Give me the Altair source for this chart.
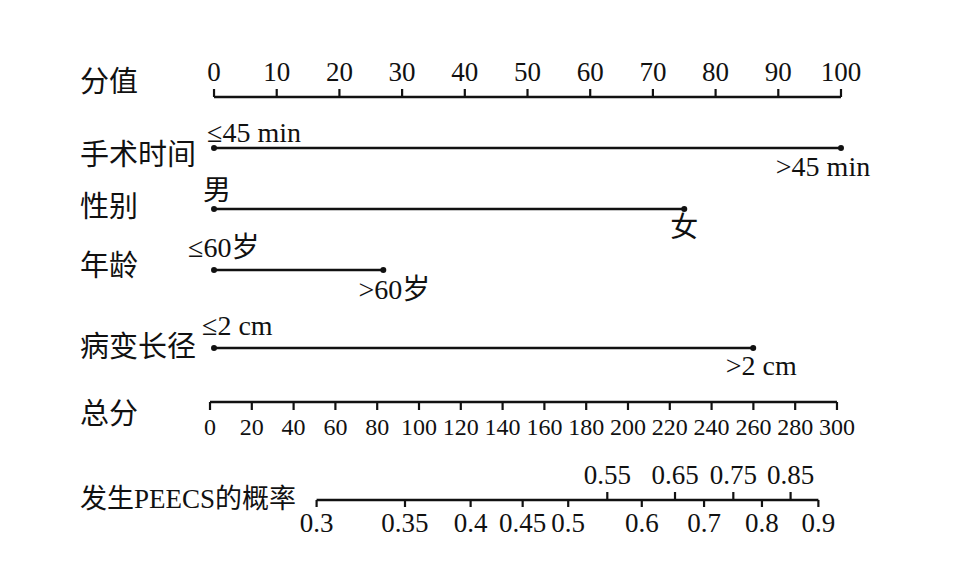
import altair as alt
import pandas as pd

FONT = "Liberation Serif, Noto Sans CJK SC, serif"
INK = "#111111"

# ---------------- data ----------------
row_names = ["分值", "手术时间", "性别", "年龄", "病变长径", "总分", "发生PEECS的概率"]
point_ticks = [0, 10, 20, 30, 40, 50, 60, 70, 80, 90, 100]
var_names = ["手术时间", "性别", "年龄", "病变长径"]
level_low = ["≤45 min", "男", "≤60岁", "≤2 cm"]
level_high = [">45 min", "女", ">60岁", ">2 cm"]
points_low = [0, 0, 0, 0]
points_high = [100, 75, 27, 86]
total_ticks = [0, 20, 40, 60, 80, 100, 120, 140, 160, 180, 200, 220, 240, 260, 280, 300]
prob_ticks = [0.3, 0.35, 0.4, 0.45, 0.5, 0.55, 0.6, 0.65, 0.7, 0.75, 0.8, 0.85, 0.9]
prob_at_total = [51.0, 93.3, 124.7, 149.6, 171.4, 190.1, 206.6, 222.5, 236.4, 250.4, 264.1, 277.8, 291.1]

# ---------------- layout (page pixel rows) ----------------
W, H = 955, 547
def py(v):
    return v - 8

row_label_y = [83, 156, 208, 267, 348, 415, 500]
row_label_size = [29, 29, 29, 29, 29, 29, 27]
var_line_y = [148, 209, 270, 348]
low_label_y = [134, 192, 249, 327]
high_label_y = [168, 229, 291, 367]
low_dx = [-7, -11, -26, -12]
high_dx = [-18, 0, 11, 8]
prob_above = [False, False, False, False, False, True, False, True, False, True, False, True, False]
TOTAL_SHIFT = -0.64  # total-points axis starts slightly left of points axis

xs = alt.Scale(domain=[-32.86, 119.46], nice=False, zero=False)
X = lambda f="p": alt.X(f"{f}:Q", scale=xs, axis=None)

layers = []

# row titles
for name, y, fs in zip(row_names, row_label_y, row_label_size):
    layers.append(
        alt.Chart(pd.DataFrame({"t": [name]})).mark_text(
            align="left", baseline="middle", font=FONT, fontSize=fs, color=INK
        ).encode(x=alt.value(72), y=alt.value(py(y)), text="t:N")
    )

# ---- points axis ----
pts = pd.DataFrame({"p": point_ticks, "lab": [str(v) for v in point_ticks]})
layers.append(
    alt.Chart(pd.DataFrame({"p": [point_ticks[0]], "p2": [point_ticks[-1]]}))
    .mark_rule(color=INK, strokeWidth=2.5)
    .encode(x=X(), x2="p2:Q", y=alt.value(py(97)))
)
layers.append(
    alt.Chart(pts).mark_rule(color=INK, strokeWidth=2.2)
    .encode(x=X(), y=alt.value(py(89)), y2=alt.value(py(97)))
)
layers.append(
    alt.Chart(pts).mark_text(baseline="middle", font=FONT, fontSize=27, color=INK)
    .encode(x=X(), y=alt.value(py(73)), text="lab:N")
)

# ---- variable rows ----
for i, name in enumerate(var_names):
    seg = pd.DataFrame({"p": [points_low[i]], "p2": [points_high[i]]})
    layers.append(
        alt.Chart(seg).mark_rule(color=INK, strokeWidth=2.6)
        .encode(x=X(), x2="p2:Q", y=alt.value(py(var_line_y[i])))
    )
    dots = pd.DataFrame({"p": [points_low[i], points_high[i]]})
    layers.append(
        alt.Chart(dots).mark_circle(color=INK, size=36, opacity=1)
        .encode(x=X(), y=alt.value(py(var_line_y[i])))
    )
    layers.append(
        alt.Chart(pd.DataFrame({"p": [points_low[i]], "t": [level_low[i]]}))
        .mark_text(align="left", baseline="middle", font=FONT, fontSize=28, color=INK, dx=low_dx[i])
        .encode(x=X(), y=alt.value(py(low_label_y[i])), text="t:N")
    )
    layers.append(
        alt.Chart(pd.DataFrame({"p": [points_high[i]], "t": [level_high[i]]}))
        .mark_text(align="center", baseline="middle", font=FONT, fontSize=28, color=INK, dx=high_dx[i])
        .encode(x=X(), y=alt.value(py(high_label_y[i])), text="t:N")
    )

# ---- total points axis ----
tot = pd.DataFrame({"t": total_ticks, "lab": [str(v) for v in total_ticks]})
calc = f"datum.t / 3 + ({TOTAL_SHIFT})"
layers.append(
    alt.Chart(pd.DataFrame({"t": [total_ticks[0]], "t2": [total_ticks[-1]]}))
    .transform_calculate(p=calc, p2=f"datum.t2 / 3 + ({TOTAL_SHIFT})")
    .mark_rule(color=INK, strokeWidth=2.5)
    .encode(x=X(), x2="p2:Q", y=alt.value(py(402)))
)
layers.append(
    alt.Chart(tot).transform_calculate(p=calc).mark_rule(color=INK, strokeWidth=2.2)
    .encode(x=X(), y=alt.value(py(402)), y2=alt.value(py(410)))
)
layers.append(
    alt.Chart(tot).transform_calculate(p=calc)
    .mark_text(baseline="middle", font=FONT, fontSize=24, color=INK)
    .encode(x=X(), y=alt.value(py(428)), text="lab:N")
)

# ---- probability axis ----
prob = pd.DataFrame({
    "t": prob_at_total,
    "lab": [f"{v:g}" for v in prob_ticks],
    "above": prob_above,
})
layers.append(
    alt.Chart(pd.DataFrame({"t": [prob_at_total[0]], "t2": [prob_at_total[-1]]}))
    .transform_calculate(p=calc, p2=f"datum.t2 / 3 + ({TOTAL_SHIFT})")
    .mark_rule(color=INK, strokeWidth=2.5)
    .encode(x=X(), x2="p2:Q", y=alt.value(py(500)))
)
prob_base = alt.Chart(prob).transform_calculate(p=calc)
up = prob_base.transform_filter("datum.above")
down = prob_base.transform_filter("!datum.above")
layers.append(
    up.mark_rule(color=INK, strokeWidth=2.2)
    .encode(x=X(), y=alt.value(py(492)), y2=alt.value(py(500)))
)
layers.append(
    down.mark_rule(color=INK, strokeWidth=2.2)
    .encode(x=X(), y=alt.value(py(500)), y2=alt.value(py(507)))
)
layers.append(
    up.mark_text(baseline="middle", font=FONT, fontSize=27, color=INK)
    .encode(x=X(), y=alt.value(py(476)), text="lab:N")
)
layers.append(
    down.mark_text(baseline="middle", font=FONT, fontSize=27, color=INK)
    .encode(x=X(), y=alt.value(py(524)), text="lab:N")
)

chart = (
    alt.layer(*layers)
    .properties(
        width=W, height=H,
        autosize=alt.AutoSizeParams(type="none"),
        padding=0,
        background="white",
    )
    .configure_view(stroke=None)
)

chart.save("out.html", embed_options={"renderer": "svg", "actions": False})
